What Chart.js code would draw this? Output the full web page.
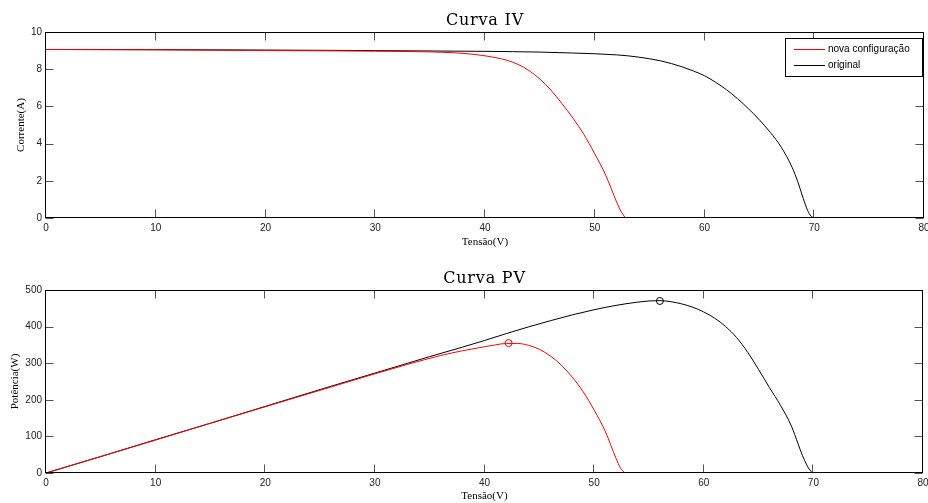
<!DOCTYPE html>
<html>
<head>
<meta charset="utf-8">
<script src="https://cdn.jsdelivr.net/npm/chart.js@4/dist/chart.umd.min.js"></script>
<style>
  html, body { margin: 0; padding: 0; background: #fff; }
  body { width: 928px; height: 503px; position: relative; overflow: hidden; }
  .box { position: absolute; left: 0; width: 928px; }
  #b1 { top: 0; height: 252px; }
  #b2 { top: 258px; height: 245px; }
</style>
</head>
<body>
<div class="box" id="b1"><canvas id="c1" width="928" height="252"></canvas></div>
<div class="box" id="b2"><canvas id="c2" width="928" height="245"></canvas></div>
<script>
// ---------- data ----------
const tensaoNovaIV = [0, 5, 10, 15, 20, 25, 30, 33, 35, 37, 38, 39, 40, 41, 42, 43, 44, 45, 46, 47, 48, 49, 50, 51, 52, 52.4, 52.8];
const correnteNova = [9.06, 9.05, 9.04, 9.02, 9.0, 8.99, 8.97, 8.95, 8.93, 8.89, 8.85, 8.80, 8.72, 8.62, 8.48, 8.26, 7.93, 7.47, 6.88, 6.16, 5.38, 4.5, 3.45, 2.3, 0.85, 0.35, 0];

const tensaoOrigIV = [0, 10, 20, 30, 40, 45, 48, 50, 52, 53, 54, 55, 56, 57, 58, 59, 60, 61, 62, 63, 64, 65, 66, 67, 68, 68.5, 69, 69.4, 69.7, 70];
const correnteOriginal = [9.06, 9.05, 9.03, 9.0, 8.96, 8.92, 8.87, 8.83, 8.77, 8.72, 8.65, 8.56, 8.45, 8.3, 8.12, 7.9, 7.65, 7.3, 6.9, 6.42, 5.88, 5.28, 4.6, 3.8, 2.7, 1.95, 1.05, 0.4, 0.1, 0];

const tensaoNovaPV = [0, 5, 10, 15, 20, 25, 30, 33, 36, 38, 40, 41, 42, 43, 44, 45, 46, 47, 48, 49, 50, 51, 52, 52.4, 52.8];
const potenciaNova = [0, 45, 90, 136, 181, 226, 271, 297, 321, 334, 345, 350, 354, 354, 349, 338, 320, 295, 262, 222, 172, 115, 40, 14, 0];

const tensaoOrigPV = [0, 5, 10, 15, 20, 25, 30, 35, 38, 40, 42, 44, 46, 48, 50, 52, 54, 55, 56, 57, 58, 59, 60, 61, 62, 63, 64, 65, 66, 67, 68, 68.6, 69, 69.4, 69.7, 70];
const potenciaOriginal = [0, 45, 91, 136, 182, 228, 273, 318, 344, 362, 381, 399, 416, 432, 446, 458, 467, 470, 471, 468, 462, 453, 440, 423, 400, 370, 330, 283, 233, 185, 128, 80, 48, 22, 7, 0];

const mppNova = { v: 42.2, p: 355 };
const mppOriginal = { v: 56, p: 470 };

const xTicks = [0, 10, 20, 30, 40, 50, 60, 70, 80];
const yTicksIV = [0, 2, 4, 6, 8, 10];
const yTicksPV = [0, 100, 200, 300, 400, 500];

const labelNova = 'nova configuração';
const labelOriginal = 'original';

// ---------- helpers ----------
const pts = (xs, ys) => xs.map((x, i) => ({ x: x, y: ys[i] }));

const tickFont = { family: 'Liberation Sans, Arial, sans-serif', size: 10 };
const labelFont = { family: 'Liberation Serif, serif', size: 11 };

// title centred over the plot area
const titlePlugin = {
  id: 'plotTitle',
  afterDraw(chart, args, opts) {
    const { ctx, chartArea: a } = chart;
    ctx.save();
    ctx.font = '16px "DejaVu Serif", serif';
    if ('letterSpacing' in ctx) ctx.letterSpacing = '0.8px';
    ctx.fillStyle = '#000';
    ctx.textAlign = 'center';
    ctx.textBaseline = 'middle';
    ctx.fillText(opts.text, (a.left + a.right) / 2, 21);
    ctx.restore();
  }
};

// inward ticks + full box, MATLAB style
const framePlugin = {
  id: 'frame',
  afterDraw(chart) {
    const { ctx, chartArea: a, scales } = chart;
    const x = scales.x, y = scales.y;
    const L = Math.round(a.left) - 0.5, R = Math.round(a.right) - 0.5;
    const T = Math.round(a.top) + 0.5, B = Math.round(a.bottom) - 0.5;
    const len = 8;
    ctx.save();
    ctx.lineWidth = 1;
    ctx.strokeStyle = '#555';
    ctx.beginPath();
    x.ticks.forEach(t => {
      const px = Math.round(x.getPixelForValue(t.value)) - 0.5;
      ctx.moveTo(px, B); ctx.lineTo(px, B - len);
      ctx.moveTo(px, T); ctx.lineTo(px, T + len);
    });
    y.ticks.forEach(t => {
      const py = Math.round(y.getPixelForValue(t.value)) + 0.5;
      ctx.moveTo(L, py); ctx.lineTo(L + len, py);
      ctx.moveTo(R, py); ctx.lineTo(R - len, py);
    });
    ctx.stroke();
    ctx.strokeStyle = '#000';
    ctx.strokeRect(L, T, R - L, B - T);
    ctx.restore();
  }
};

// legend box inside the upper-right of the plot area
const legendPlugin = {
  id: 'boxLegend',
  afterDraw(chart, args, opts) {
    if (!opts.show) return;
    const { ctx, chartArea: a } = chart;
    const items = chart.data.datasets.filter(d => d.inLegend);
    ctx.save();
    ctx.font = '10px "Liberation Sans", Arial, sans-serif';
    let tw = 0;
    items.forEach(d => { tw = Math.max(tw, ctx.measureText(d.label).width); });
    const w = Math.round(43 + tw + 12), h = 38;
    const right = Math.round(a.right) - 2;
    const left = right - w;
    const top = Math.round(a.top) + 6;
    ctx.fillStyle = '#fff';
    ctx.fillRect(left, top, w, h);
    ctx.strokeStyle = '#000';
    ctx.lineWidth = 1;
    ctx.strokeRect(left + 0.5, top + 0.5, w, h);
    items.forEach((d, i) => {
      const cy = top + 11 + i * 16;
      ctx.strokeStyle = d.borderColor;
      ctx.lineWidth = 1;
      ctx.beginPath();
      ctx.moveTo(left + 9, cy + 0.5);
      ctx.lineTo(left + 40, cy + 0.5);
      ctx.stroke();
      ctx.fillStyle = '#000';
      ctx.textBaseline = 'middle';
      ctx.textAlign = 'left';
      ctx.fillText(d.label, left + 43, cy);
    });
    ctx.restore();
  }
};

function makeOptions(cfg) {
  return {
    responsive: false,
    animation: false,
    devicePixelRatio: 1,
    layout: { padding: { left: 0, right: 4, top: 32, bottom: 0 } },
    plugins: {
      legend: { display: false },
      tooltip: { enabled: false },
      title: { display: false },
      plotTitle: { text: cfg.title },
      boxLegend: { show: cfg.legend }
    },
    elements: { line: { cubicInterpolationMode: 'monotone', borderWidth: 1 }, point: { radius: 0 } },
    scales: {
      x: {
        type: 'linear', min: 0, max: 80,
        afterBuildTicks: s => { s.ticks = xTicks.map(v => ({ value: v })); },
        afterFit: s => { s.height = cfg.xHeight; s.paddingLeft = 0; s.paddingRight = 0; },
        grid: { display: false, drawTicks: false },
        border: { display: false },
        ticks: { color: '#222', font: tickFont, padding: 4, maxRotation: 0, autoSkip: false },
        title: { display: true, text: 'Tensão(V)', color: '#000', font: labelFont, padding: { top: 0, bottom: cfg.xTitlePad } }
      },
      y: {
        type: 'linear', min: 0, max: cfg.yMax,
        afterBuildTicks: s => { s.ticks = cfg.yTicks.map(v => ({ value: v })); },
        afterFit: s => { s.width = 46; s.paddingTop = 0; s.paddingBottom = 0; },
        grid: { display: false, drawTicks: false },
        border: { display: false },
        ticks: { color: '#222', font: tickFont, padding: 4 },
        title: { display: true, text: cfg.yTitle, color: '#000', font: labelFont, padding: { top: cfg.yTitlePad, bottom: 0 } }
      }
    }
  };
}

// ---------- Curva IV ----------
new Chart(document.getElementById('c1'), {
  type: 'scatter',
  data: {
    datasets: [
      { label: labelNova, data: pts(tensaoNovaIV, correnteNova), showLine: true, borderColor: '#ff0000', backgroundColor: '#ff0000', inLegend: true, order: 1 },
      { label: labelOriginal, data: pts(tensaoOrigIV, correnteOriginal), showLine: true, borderColor: '#000000', backgroundColor: '#000000', inLegend: true, order: 2 }
    ]
  },
  options: makeOptions({ title: 'Curva IV', yMax: 10, yTicks: yTicksIV, yTitle: 'Corrente(A)', yTitlePad: 15, xHeight: 34, xTitlePad: 3, legend: true }),
  plugins: [framePlugin, legendPlugin, titlePlugin]
});

// ---------- Curva PV ----------
new Chart(document.getElementById('c2'), {
  type: 'scatter',
  data: {
    datasets: [
      { label: labelOriginal, data: pts(tensaoOrigPV, potenciaOriginal), showLine: true, borderColor: '#000000', backgroundColor: '#000000', order: 2 },
      { label: labelNova, data: pts(tensaoNovaPV, potenciaNova), showLine: true, borderColor: '#ff0000', backgroundColor: '#ff0000', order: 1 },
      { label: 'MPP original', data: [{ x: mppOriginal.v, y: mppOriginal.p }], pointRadius: 3.5, pointBorderWidth: 1, borderColor: '#000000', backgroundColor: 'rgba(0,0,0,0)', order: 0 },
      { label: 'MPP nova', data: [{ x: mppNova.v, y: mppNova.p }], pointRadius: 3.5, pointBorderWidth: 1, borderColor: '#ff0000', backgroundColor: 'rgba(0,0,0,0)', order: 0 }
    ]
  },
  options: makeOptions({ title: 'Curva PV', yMax: 500, yTicks: yTicksPV, yTitle: 'Potência(W)', yTitlePad: 9, xHeight: 30, xTitlePad: 0, legend: false }),
  plugins: [framePlugin, titlePlugin]
});
</script>
</body>
</html>
